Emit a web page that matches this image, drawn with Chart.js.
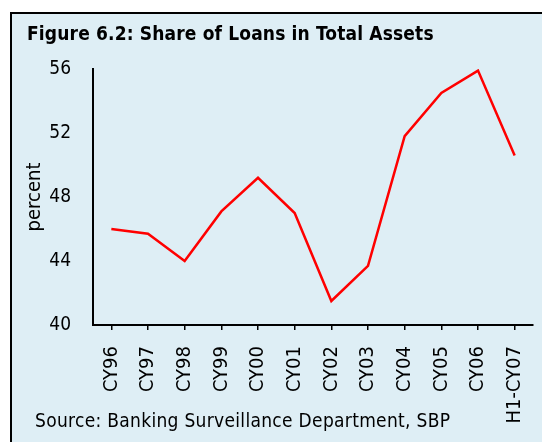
<!DOCTYPE html>
<html lang="en">
<head>
    <meta charset="UTF-8">
    <title>Share of Loans in Total Assets</title>
    <script src="https://cdn.jsdelivr.net/npm/chart.js@4"></script>
    <style>
        html, body { margin: 0; padding: 0; background: #fff; overflow: hidden; }
        #frame {
            position: absolute; left: 10px; top: 12px;
            width: 530px; height: 428px;
            border-left: 2px solid #000; border-top: 2px solid #000;
            background: #deeef5;
            font-family: 'DejaVu Sans Condensed', 'DejaVu Sans', sans-serif;
        }
        #heading {
            position: absolute; left: 15px; top: 8px;
            font-size: 19px; letter-spacing: 0.15px; font-weight: bold; color: #000; white-space: nowrap;
        }
        #source {
            position: absolute; left: 23px; top: 395px;
            font-size: 19px; letter-spacing: 0.3px; color: #000; white-space: nowrap;
        }
        #wrap { position: absolute; left: 0; top: 0; width: 530px; height: 428px; }
    </style>
</head>
<body>
<div id="frame">
    <div id="wrap"><canvas id="loans_chart"></canvas></div>
    <div id="heading">Figure 6.2: Share of Loans in Total Assets</div>
    <div id="source">Source: Banking Surveillance Department, SBP</div>
</div>

<script>
    var years = ["CY96", "CY97", "CY98", "CY99", "CY00", "CY01", "CY02", "CY03", "CY04", "CY05", "CY06", "H1-CY07"];
    var loanShare = [46.0, 45.7, 44.0, 47.1, 49.2, 47.0, 41.5, 43.7, 51.8, 54.5, 55.9, 50.6];

    var fontFamily = "'DejaVu Sans Condensed', 'DejaVu Sans', sans-serif";

    var ctx = document.getElementById("loans_chart").getContext('2d');
    var chart = new Chart(ctx, {
        type: 'line',
        data: {
            labels: years,
            datasets: [{
                label: "percent",
                data: loanShare,
                borderColor: "#ff0000",
                borderWidth: 2.5,
                pointRadius: 0,
                tension: 0,
                fill: false
            }]
        },
        options: {
            responsive: true,
            maintainAspectRatio: false,
            animation: false,
            layout: { padding: { left: 0, right: 9, top: 55, bottom: 0 } },
            plugins: {
                legend: { display: false },
                tooltip: { enabled: false }
            },
            scales: {
                x: {
                    offset: true,
                    afterFit: function (scale) {
                        scale.height = 117;
                        scale.paddingLeft = 0;
                        scale.paddingRight = 0;
                    },
                    grid: { display: true, drawOnChartArea: false, drawTicks: true, tickLength: 5, color: "#000", lineWidth: 1.5 },
                    border: { display: true, color: "#000", width: 2 },
                    ticks: {
                        autoSkip: false, maxRotation: 90, minRotation: 90, padding: 16,
                        color: "#000", font: { family: fontFamily, size: 20 }
                    }
                },
                y: {
                    min: 40, max: 56,
                    afterFit: function (scale) { scale.width = 81; },
                    grid: { display: true, drawOnChartArea: false, drawTicks: false },
                    border: { display: true, color: "#000", width: 2 },
                    title: {
                        display: true, text: "percent", color: "#000",
                        font: { family: fontFamily, size: 20 }, padding: { top: 11, bottom: 0 }
                    },
                    ticks: {
                        stepSize: 4, padding: 22,
                        color: "#000", font: { family: fontFamily, size: 19 }
                    }
                }
            }
        }
    });
</script>
</body>
</html>
